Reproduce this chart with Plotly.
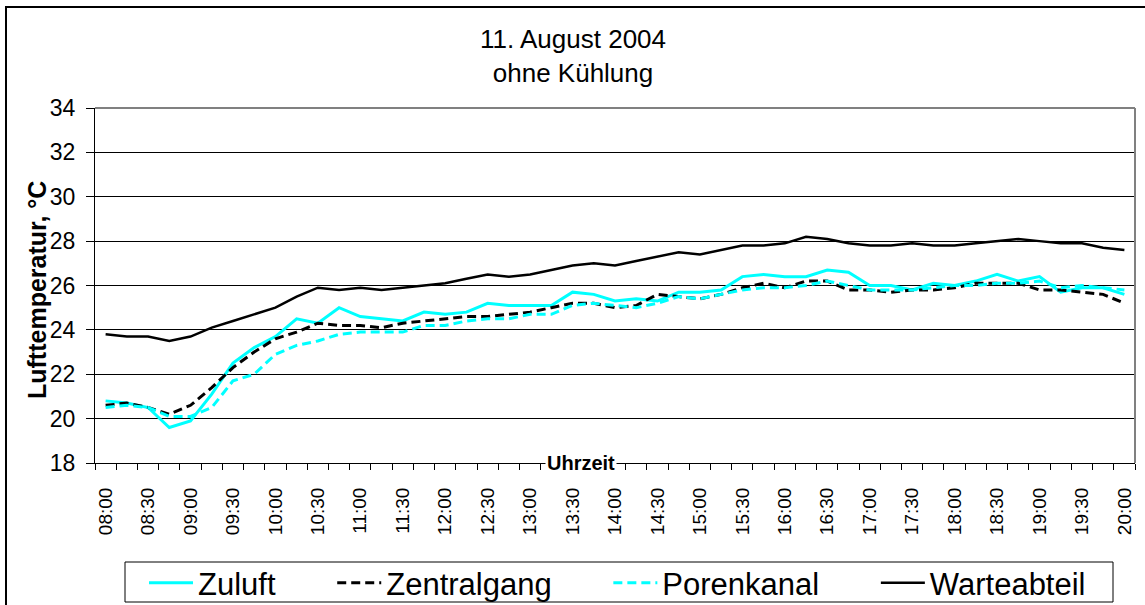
import plotly.graph_objects as go

times = ["08:00","08:15","08:30","08:45","09:00","09:15","09:30","09:45","10:00","10:15",
         "10:30","10:45","11:00","11:15","11:30","11:45","12:00","12:15","12:30","12:45",
         "13:00","13:15","13:30","13:45","14:00","14:15","14:30","14:45","15:00","15:15",
         "15:30","15:45","16:00","16:15","16:30","16:45","17:00","17:15","17:30","17:45",
         "18:00","18:15","18:30","18:45","19:00","19:15","19:30","19:45","20:00"]

tick_labels = ["08:00","08:30","09:00","09:30","10:00","10:30","11:00","11:30","12:00",
               "12:30","13:00","13:30","14:00","14:30","15:00","15:30","16:00","16:30",
               "17:00","17:30","18:00","18:30","19:00","19:30","20:00"]

zuluft = [20.8,20.7,20.5,19.6,19.9,21.1,22.5,23.2,23.7,24.5,24.3,25.0,24.6,
          24.5,24.4,24.8,24.7,24.8,25.2,25.1,25.1,25.1,25.7,25.6,25.3,
          25.4,25.3,25.7,25.7,25.8,26.4,26.5,26.4,26.4,26.7,26.6,26.0,
          26.0,25.8,26.1,26.0,26.2,26.5,26.2,26.4,25.7,25.9,25.9,25.6]

zentralgang = [20.6,20.7,20.5,20.2,20.6,21.4,22.3,23.0,23.6,23.9,24.3,24.2,24.2,
               24.1,24.3,24.4,24.5,24.6,24.6,24.7,24.8,25.0,25.2,25.2,25.0,
               25.1,25.6,25.5,25.4,25.6,25.9,26.1,25.9,26.2,26.2,25.8,25.8,
               25.7,25.8,25.8,25.9,26.1,26.1,26.1,25.8,25.8,25.7,25.6,25.2]

porenkanal = [20.5,20.6,20.5,20.1,20.1,20.5,21.7,22.0,22.9,23.3,23.5,23.8,23.9,
              23.9,23.9,24.2,24.2,24.4,24.5,24.5,24.7,24.7,25.1,25.2,25.1,
              25.0,25.2,25.5,25.4,25.6,25.8,25.9,25.9,26.0,26.2,26.0,25.8,
              25.8,25.8,25.9,26.0,26.0,26.1,26.1,26.2,25.9,26.0,25.9,25.8]

warteabteil = [23.8,23.7,23.7,23.5,23.7,24.1,24.4,24.7,25.0,25.5,25.9,25.8,25.9,
               25.8,25.9,26.0,26.1,26.3,26.5,26.4,26.5,26.7,26.9,27.0,26.9,
               27.1,27.3,27.5,27.4,27.6,27.8,27.8,27.9,28.2,28.1,27.9,27.8,
               27.8,27.9,27.8,27.8,27.9,28.0,28.1,28.0,27.9,27.9,27.7,27.6]

y_ticks = [18, 20, 22, 24, 26, 28, 30, 32, 34]

FONT = "Arial, Liberation Sans, sans-serif"
CYAN = "#00FFFF"

x = list(range(len(times)))
tickvals = [times.index(t) for t in tick_labels]

pad = "\u00a0" * 6
fig = go.Figure()
fig.add_trace(go.Scatter(x=x, y=zuluft, mode="lines", name="Zuluft" + pad,
                         line=dict(color=CYAN, width=3)))
fig.add_trace(go.Scatter(x=x, y=zentralgang, mode="lines", name="Zentralgang" + pad,
                         line=dict(color="black", width=3, dash="9px,5px")))
fig.add_trace(go.Scatter(x=x, y=porenkanal, mode="lines", name="Porenkanal" + pad,
                         line=dict(color=CYAN, width=3, dash="9px,5px")))
fig.add_trace(go.Scatter(x=x, y=warteabteil, mode="lines", name="Warteabteil",
                         line=dict(color="black", width=2.5)))

L, R, T, B = 95, 10, 108, 142
W, H = 1145, 605
pw, ph = W - L - R, H - T - B

def px(xp):
    return (xp - L) / pw

def py(yp):
    return (H - B - yp) / ph

fig.update_layout(
    template="none",
    width=W, height=H,
    margin=dict(l=L, r=R, t=T, b=B, pad=0, autoexpand=False),
    paper_bgcolor="white", plot_bgcolor="white",
    font=dict(family=FONT, color="black"),
    showlegend=True,
    legend=dict(orientation="h", x=px(144), xanchor="left", y=py(583), yanchor="middle",
                font=dict(size=31, family=FONT, color="black"), itemwidth=44,
                bgcolor="rgba(0,0,0,0)", borderwidth=0, traceorder="normal"),
    xaxis=dict(range=[-0.5, len(times) - 0.5], tickmode="array", tickvals=tickvals,
               ticktext=tick_labels, tickangle=-90, ticks="", ticklen=0,
               tickfont=dict(size=19, family=FONT, color="black"),
               ticklabelstandoff=16,
               showgrid=False, zeroline=False, showline=True, linecolor="black",
               linewidth=1, automargin=False,
               minor=dict(tickmode="linear", tick0=-0.5, dtick=1, ticks="outside",
                          ticklen=6, tickcolor="black", tickwidth=1, showgrid=False)),
    yaxis=dict(range=[18, 34], tickmode="array", tickvals=y_ticks,
               ticks="outside", ticklen=8, tickcolor="black", tickwidth=1,
               tickfont=dict(size=23, family=FONT, color="black"),
               ticklabelstandoff=6,
               showgrid=True, gridcolor="black", gridwidth=1, zeroline=False,
               showline=True, linecolor="black", linewidth=1, automargin=False),
)

# plot area top/right border (gray)
fig.add_shape(type="line", xref="paper", yref="paper", x0=0, x1=1, y0=1, y1=1,
              line=dict(color="#808080", width=2))
fig.add_shape(type="line", xref="paper", yref="paper", x0=1, x1=1, y0=0, y1=1,
              line=dict(color="#808080", width=2))
# outer chart frame
fig.add_shape(type="rect", xref="paper", yref="paper", x0=px(6), x1=px(1160),
              y0=py(620), y1=py(7), line=dict(color="black", width=2),
              fillcolor="rgba(0,0,0,0)", layer="above")
# legend box
fig.add_shape(type="rect", xref="paper", yref="paper", x0=px(125), x1=px(1113),
              y0=py(602), y1=py(562), line=dict(color="black", width=1),
              fillcolor="rgba(0,0,0,0)")

# title
fig.add_annotation(text="11. August 2004<br>ohne Kühlung", xref="paper", yref="paper",
                   x=px(573), y=py(56), xanchor="center", yanchor="middle",
                   showarrow=False, font=dict(size=26, family=FONT, color="black"))
# y axis title
fig.add_annotation(text="<b>Lufttemperatur, °C</b>", xref="paper", yref="paper",
                   x=px(37), y=py(290), xanchor="center", yanchor="middle",
                   textangle=-90, showarrow=False,
                   font=dict(size=25, family=FONT, color="black"))
# x axis title sitting on the axis
fig.add_annotation(text="<b>Uhrzeit</b>", xref="paper", yref="paper",
                   x=px(581), y=0, xanchor="center", yanchor="middle",
                   showarrow=False, bgcolor="white", borderpad=1,
                   font=dict(size=20, family=FONT, color="black"))

fig.write_html("out.html", config={"displayModeBar": False},
               post_script="document.body.style.margin='0';")
